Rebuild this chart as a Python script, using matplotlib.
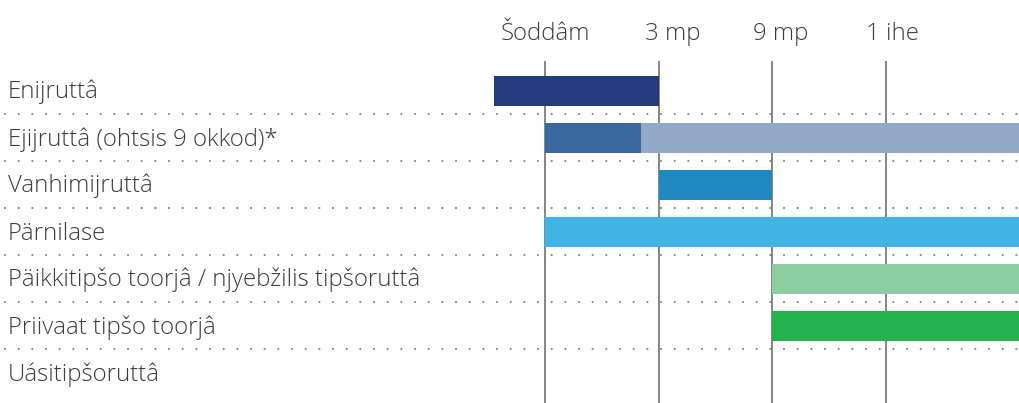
import matplotlib

matplotlib.use("Agg")

from matplotlib import pyplot as plt

# rows, top to bottom
ROW_LABELS = [
    "Enijruttâ",
    "Ejijruttâ (ohtsis 9 okkod)*",
    "Vanhimijruttâ",
    "Pärnilase",
    "Päikkitipšo toorjâ / njyebžilis tipšoruttâ",
    "Priivaat tipšo toorjâ",
    "Uásitipšoruttâ",
]

# time axis: equally spaced steps
TICK_POS = [0, 1, 2, 3]
TICK_LABELS = ["Šoddâm", "3 mp", "9 mp", "1 ihe"]

# bar segments (row index, start, end) in time-step units; 4.2 = open ended
SEG_ROW = [0, 1, 1, 2, 3, 4, 5]
SEG_START = [-0.45, 0, 0.845, 1, 0, 2, 2]
SEG_END = [1, 0.845, 4.2, 2, 4.2, 4.2, 4.2]
SEG_COLOR = ["#223b7a", "#3a69a0", "#93a9c9", "#1f88bf", "#40b4e4", "#8ccea1", "#24b24c"]

W, H = 1019, 403
PX_X = 113.5      # pixels per time step
X0 = 545          # pixel of "Šoddâm"
ROW_H = 47
Y0 = 90.5         # pixel centre of first row

TEXT_COLOR = "#3d3d3d"
LINE_COLOR = "#7c7c7c"
DOT_COLOR = "#8a8a8a"

plt.rcParams["lines.scale_dashes"] = False
plt.rcParams["font.family"] = ["Open Sans", "DejaVu Sans"]

fig = plt.figure(figsize=(W / 100, H / 100), dpi=100)
ax = fig.add_axes([0, 0, 1, 1])
ax.axis("off")
ax.set_xlim(-X0 / PX_X, (W - X0) / PX_X)
ax.set_ylim((H - Y0) / ROW_H, -Y0 / ROW_H)


def px_x(p):
    return (p - X0) / PX_X


def px_y(p):
    return (p - Y0) / ROW_H


# fit font size so the longest label is about 412 px wide
fs = 17
probe = ax.text(0, 0, ROW_LABELS[4], fontsize=fs, fontweight="light")
fig.canvas.draw()
wpx = probe.get_window_extent().width
probe.remove()
fs = fs * 412 / wpx

# vertical guide lines
ax.vlines(TICK_POS, px_y(61), px_y(H), color=LINE_COLOR, lw=1.3, zorder=1)

# dotted row separators
for i in range(len(ROW_LABELS) - 1):
    ax.plot([px_x(5), px_x(W)], [i + 0.5, i + 0.5], color=DOT_COLOR, lw=1.6,
            linestyle=(0, (0.01, 9.83)), dash_capstyle="round", zorder=2)

# bars
bar_h = 30 / ROW_H
ax.barh(SEG_ROW, [e - s for s, e in zip(SEG_START, SEG_END)], left=SEG_START,
        height=bar_h, color=SEG_COLOR, linewidth=0, zorder=3)

# row labels
for i, lab in enumerate(ROW_LABELS):
    ax.text(px_x(8), i + 8 / ROW_H, lab, fontsize=fs, fontweight="light",
            color=TEXT_COLOR, ha="left", va="baseline")

# time labels
offsets = [0, 14, 9, 7]
for t, lab, off in zip(TICK_POS, TICK_LABELS, offsets):
    ax.annotate(lab, (t, px_y(40)), xytext=(off * 0.72, 0), textcoords="offset points",
                fontsize=fs, fontweight="light", color=TEXT_COLOR,
                ha="center", va="baseline")

fig.savefig("out.png", dpi=100)
